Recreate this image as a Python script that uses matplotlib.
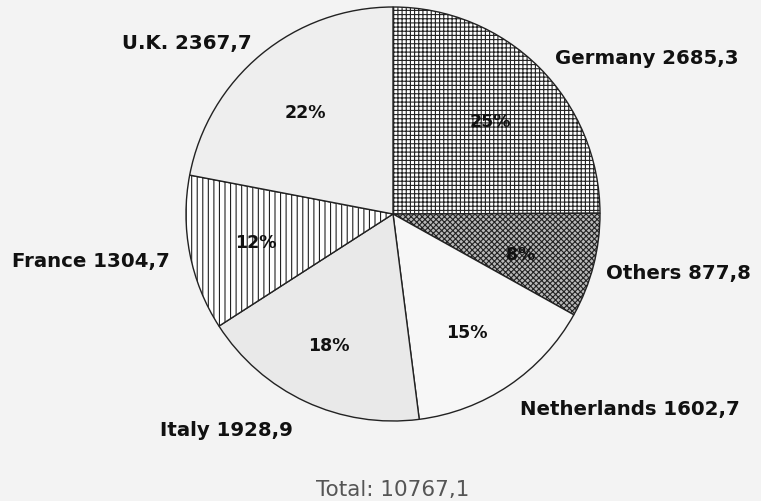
import matplotlib
matplotlib.use("Agg")
import matplotlib.pyplot as plt

countries = ["Germany", "Others", "Netherlands", "Italy", "France", "U.K."]
values = [2685.3, 877.8, 1602.7, 1928.9, 1304.7, 2367.7]
value_labels = ["2685,3", "877,8", "1602,7", "1928,9", "1304,7", "2367,7"]
pct_labels = ["25%", "8%", "15%", "18%", "12%", "22%"]
total_label = "Total: 10767,1"

# layout (pixel coordinates, y from top)
W, H = 761, 502
center_px = (393, 215)
radius_px = 207
name_pos = [(555, 59), (606, 274), (520, 410), (160, 431), (12, 261), (122, 43)]
pct_pos = [(490, 122), (521, 255), (467, 333), (329, 346), (256, 243), (305, 113)]

facecolors = ["white", "#b8b8b8", "#f7f7f7", "#e9e9e9", "white", "#eeeeee"]
hatches = ["++++", "xxxxxx", None, None, "|||", None]

plt.rcParams["hatch.linewidth"] = 0.8
plt.rcParams["font.family"] = ["DejaVu Sans"]

fig = plt.figure(figsize=(W / 100, H / 100), dpi=100)
fig.patch.set_facecolor("#f3f3f3")
ax = fig.add_axes([0, 0, 1, 1])
ax.set_xlim(0, W)
ax.set_ylim(0, H)
ax.set_aspect("equal")
ax.axis("off")

wedges, _ = ax.pie(values, startangle=90, counterclock=False,
                   center=(center_px[0], H - center_px[1]), radius=radius_px,
                   colors=facecolors,
                   wedgeprops=dict(edgecolor="#222222", linewidth=1.0))
for w, h in zip(wedges, hatches):
    if h:
        w.set_hatch(h)

ax.set_xlim(0, W)
ax.set_ylim(0, H)

for name, val, (x, y) in zip(countries, value_labels, name_pos):
    ax.text(x, H - y, f"{name} {val}", fontsize=14.2, fontweight="bold",
            ha="left", va="center", color="#111111")

for p, (x, y) in zip(pct_labels, pct_pos):
    ax.text(x, H - y, p, fontsize=12.5, fontweight="bold", ha="center",
            va="center", color="#111111")

ax.text(center_px[0], H - 490, total_label, fontsize=15.5, ha="center",
        va="center", color="#555555")

fig.savefig("out.png", dpi=100, facecolor=fig.get_facecolor())
